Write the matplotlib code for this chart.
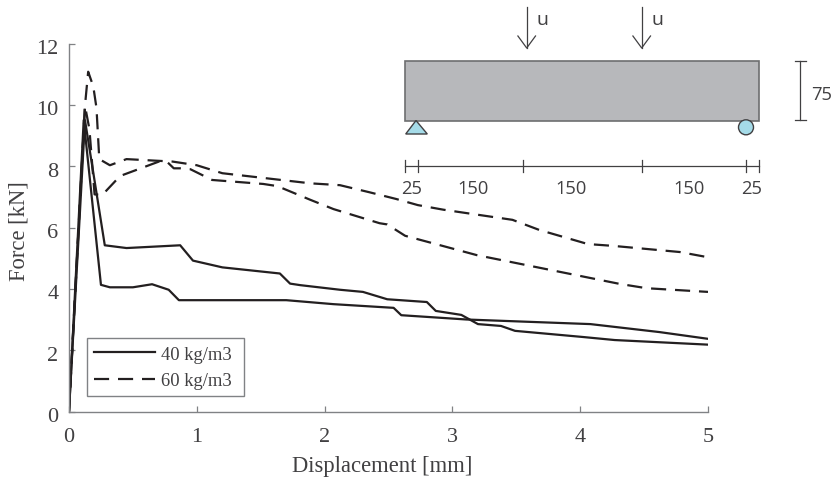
import matplotlib
matplotlib.use("Agg")
import matplotlib.pyplot as plt
from matplotlib.patches import Rectangle, Polygon, Circle
from matplotlib.transforms import ScaledTranslation

plt.rcParams['font.family'] = ['Liberation Serif']

# solid curves, 40 kg/m3
x40a = [0, 0.125, 0.28, 0.45, 0.87, 0.97, 1.2, 1.65, 1.73, 1.81, 2.12, 2.30, 2.49, 2.80, 2.87, 3.07, 3.2, 3.38, 3.49, 4.02, 4.27, 5.0]
y40a = [0, 9.5, 5.42, 5.33, 5.42, 4.92, 4.7, 4.5, 4.17, 4.12, 3.97, 3.9, 3.66, 3.57, 3.28, 3.15, 2.85, 2.79, 2.63, 2.43, 2.33, 2.18]
x40b = [0, 0.115, 0.25, 0.32, 0.5, 0.65, 0.78, 0.86, 1.7, 2.07, 2.54, 2.6, 3.11, 4.08, 4.62, 5.0]
y40b = [0, 9.5, 4.13, 4.05, 4.05, 4.15, 3.97, 3.63, 3.63, 3.5, 3.38, 3.14, 3.0, 2.85, 2.59, 2.37]

# dashed curves, 60 kg/m3
x60a = [0, 0.125, 0.15, 0.19, 0.215, 0.237, 0.32, 0.45, 0.81, 1.0, 1.2, 1.89, 2.12, 2.35, 2.56, 2.73, 2.93, 3.47, 3.68, 4.06, 4.26, 4.78, 5.0]
y60a = [0, 9.97, 11.08, 10.6, 9.9, 8.23, 8.03, 8.23, 8.15, 8.03, 7.77, 7.44, 7.38, 7.15, 6.93, 6.73, 6.58, 6.25, 5.92, 5.46, 5.4, 5.2, 5.03]
x60b = [0, 0.125, 0.16, 0.2, 0.26, 0.4, 0.71, 0.77, 0.82, 0.87, 0.95, 1.12, 1.52, 1.63, 1.89, 2.07, 2.43, 2.49, 2.63, 3.19, 4.31, 4.52, 5.0]
y60b = [0, 9.97, 9.2, 7.08, 7.06, 7.68, 8.16, 8.13, 7.93, 7.93, 7.9, 7.55, 7.42, 7.35, 6.9, 6.6, 6.14, 6.1, 5.73, 5.1, 4.16, 4.02, 3.9]

xticks = [0, 1, 2, 3, 4, 5]
yticks = [0, 2, 4, 6, 8, 10, 12]

W, H = 834, 481
line = '#231f20'
axcol = '#808285'
txt = '#414042'
dash = (0, (6.8, 4))

fig = plt.figure(figsize=(W/100, H/100), dpi=100)
ax = fig.add_axes([69/W, 1-412.5/H, (708-69)/W, (412.5-44.5)/H])
ax.plot(x40a, y40a, color=line, lw=1.6, label='40 kg/m3')
ax.plot(x40b, y40b, color=line, lw=1.6)
ax.plot(x60a, y60a, color=line, lw=1.6, ls=dash, label='60 kg/m3')
ax.plot(x60b, y60b, color=line, lw=1.6, ls=dash)
ax.set_xlim(0, 5)
ax.set_ylim(0, 12)
ax.set_xticks(xticks)
ax.set_yticks(yticks)
ax.tick_params(direction='in', length=4.5, width=0.9, color=axcol, labelcolor=txt, labelsize=16)
ax.tick_params(axis='x', pad=11)
ax.tick_params(axis='y', pad=7.5)
shift = ScaledTranslation(0, -2.5/72*0.72, fig.dpi_scale_trans)
for lab in ax.get_yticklabels():
    lab.set_transform(lab.get_transform() + shift)
for s in ['top', 'right']:
    ax.spines[s].set_visible(False)
for s in ['left', 'bottom']:
    ax.spines[s].set_color(axcol)
    ax.spines[s].set_linewidth(1.0)
ax.set_xlabel('Displacement [mm]', fontsize=16.3, color=txt)
ax.set_ylabel('Force [kN]', fontsize=16.3, color=txt)
ax.xaxis.set_label_coords((382-69)/639, (412.5-456.5)/368)
ax.yaxis.set_label_coords((30-69)/639, (412.5-231)/368)

leg = ax.legend(loc='lower left', mode='expand',
                bbox_to_anchor=((86.7-69)/639, (412.5-397.3)/368, 157.3/639, 58.3/368), fontsize=13.4,
                frameon=True, fancybox=False, framealpha=1, edgecolor=axcol, borderaxespad=0,
                handlelength=3.3, handletextpad=0.3, labelspacing=0.52, borderpad=0.38)
leg.get_frame().set_linewidth(1.0)
for t in leg.get_texts():
    t.set_color(txt)

# beam sketch, overlay in pixel coordinates
ov = fig.add_axes([0, 0, 1, 1])
ov.set_xlim(0, W)
ov.set_ylim(H, 0)
ov.axis('off')
sans = 'Open Sans'
ov.add_patch(Rectangle((405.5, 61.5), 354, 60, fc='#b7b8bb', ec='#6d6e70', lw=1.2))
ov.add_patch(Polygon([[416, 121.5], [405.7, 135], [427.3, 135]], closed=True, fc='#a5dbe8', ec='#414042', lw=1))
ov.add_patch(Circle((746, 128.3), 7.5, fc='#a5dbe8', ec='#414042', lw=1))

for xa, xu in [(526.7, 542.7), (641.7, 657.7)]:
    ov.plot([xa, xa], [8, 49], color='#414042', lw=0.9)
    ov.plot([xa-8.8, xa, xa+8.8], [37, 49, 37], color='#414042', lw=0.9)
    ov.text(xu, 20, 'u', family=sans, fontsize=14, color=txt, ha='center', va='center')

# dimension line
dim = [405, 418.3, 522.7, 641.7, 746, 759.3]
dimlab = [(411.7, '25'), (472.7, '150'), (570.7, '150'), (689, '150'), (751.7, '25')]
ov.plot([dim[0], dim[-1]], [167, 167], color='#414042', lw=0.9)
for d in dim:
    ov.plot([d, d], [161, 173], color='#414042', lw=0.9)
for xt, s in dimlab:
    ov.text(xt, 189, s, family=sans, fontsize=13.2, color=txt, ha='center', va='center')
ov.plot([800, 800], [62, 121], color='#414042', lw=0.9)
ov.plot([795, 806], [62, 62], color='#414042', lw=0.9)
ov.plot([795, 806], [121, 121], color='#414042', lw=0.9)
ov.text(821.7, 95, '75', family=sans, fontsize=13.2, color=txt, ha='center', va='center')

fig.savefig('out.png', dpi=100)
